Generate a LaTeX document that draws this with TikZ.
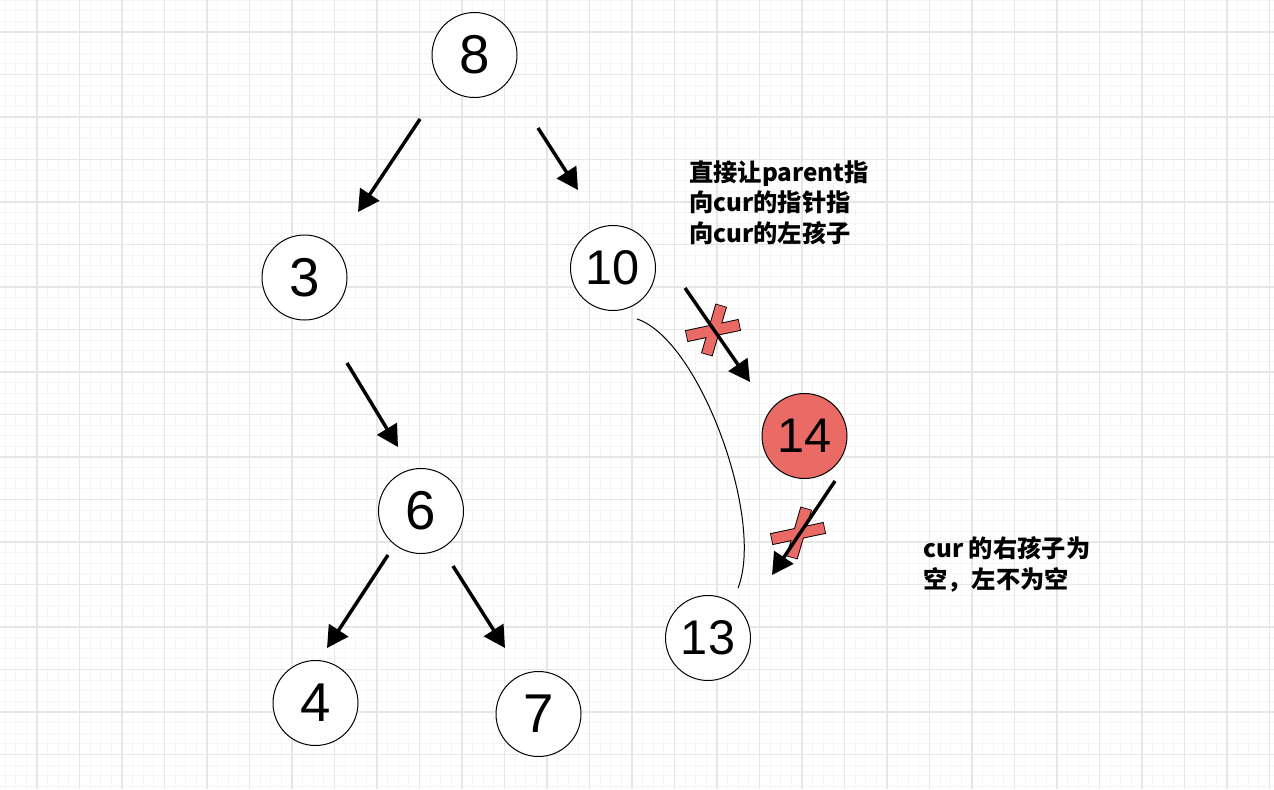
\documentclass[tikz,border=0pt]{standalone}
\usepackage{fontspec}
\setmainfont{Liberation Sans}
\newfontfamily\cjk{Noto Sans CJK SC}
\usetikzlibrary{arrows.meta}
\definecolor{gridminor}{HTML}{F5F5F5}
\definecolor{gridmajor}{HTML}{E6E6E6}
\definecolor{hl}{HTML}{EA6B66}
\begin{document}
\begin{tikzpicture}[x=0.75pt,y=-0.75pt,
  tnode/.style={circle,draw,line width=0.75pt,minimum size=63.75pt,inner sep=0pt,fill=white},
  big/.style={font=\fontsize{41}{41}\selectfont},
  mid/.style={font=\fontsize{36.5}{36.5}\selectfont},
  edge/.style={line width=2.6pt,-{Triangle[length=16pt,width=17pt]}},
  note/.style={font=\cjk\bfseries\fontsize{18.2}{23}\selectfont,align=left,inner sep=0pt,anchor=north west},
  crossout/.style={line width=9pt,black,shorten <=-0.6pt,shorten >=-0.6pt},
  crossin/.style={line width=7.6pt,hl}]
\useasboundingbox (0,0) rectangle (1274,789);
\fill[white] (0,0) rectangle (1274,789);
% grid
\foreach \k in {-3,...,116} {\draw[gridminor,line width=0.75pt] ({37+\k*10.625},0) -- ({37+\k*10.625},789);}
\foreach \k in {-3,...,72} {\draw[gridminor,line width=0.75pt] (0,{32+\k*10.625}) -- (1274,{32+\k*10.625});}
\foreach \k in {-1,...,29} {\draw[gridmajor,line width=1pt] ({37+\k*42.5},0) -- ({37+\k*42.5},789);}
\foreach \k in {-1,...,18} {\draw[gridmajor,line width=1pt] (0,{32+\k*42.5}) -- (1274,{32+\k*42.5});}

% nodes
\node[tnode,big] (n8) at (474.5,55) {8};
\node[tnode,big] (n3) at (304.5,277.5) {3};
\node[tnode,mid] (n10) at (613,268) {10};
\node[tnode,mid,fill=hl] (n14) at (804.5,436) {14};
\node[tnode,big] (n6) at (421,511) {6};
\node[tnode,mid] (n13) at (708,638) {13};
\node[tnode,big] (n4) at (315.5,703) {4};
\node[tnode,big] (n7) at (538.5,714) {7};

% thin curve
\coordinate (cs) at (637,319);
\coordinate (ce) at (738,588);
\draw[line width=0.75pt] (cs) .. controls (700,340) and (765,520) .. (ce);

% crosses
\foreach \cx/\cy in {713/330, 798/533} {
  \draw[crossout] (\cx+8,\cy-24) -- (\cx-6,\cy+24);
  \draw[crossout] (\cx-26,\cy+6) -- (\cx+26,\cy-5);
  \draw[crossin] (\cx+8,\cy-24) -- (\cx-6,\cy+24);
  \draw[crossin] (\cx-26,\cy+6) -- (\cx+26,\cy-5);
}

% arrows
\coordinate (a1s) at (420,119); \coordinate (a1e) at (358,212);
\coordinate (a2s) at (538,128); \coordinate (a2e) at (578,190);
\coordinate (a3s) at (347,363); \coordinate (a3e) at (398,447);
\coordinate (a4s) at (685,288); \coordinate (a4e) at (750,382);
\coordinate (a5s) at (835,481); \coordinate (a5e) at (772,575);
\coordinate (a6s) at (388,555); \coordinate (a6e) at (327,648);
\coordinate (a7s) at (453,566); \coordinate (a7e) at (505,648);
\foreach \i in {1,...,7} {\draw[edge] (a\i s) -- (a\i e);}

% notes
\node[note] (t1) at (689,160) {直接让parent指\\向cur的指针指\\向cur的左孩子};
\node[note] (t2) at (923,536) {cur 的右孩子为\\空，左不为空};
\end{tikzpicture}
\end{document}
